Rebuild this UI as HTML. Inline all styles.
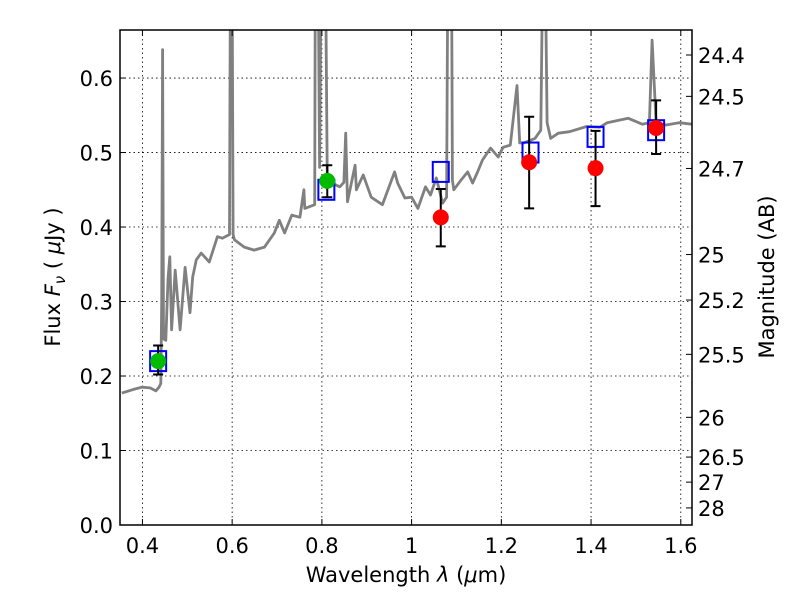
<!DOCTYPE html>
<html><head><meta charset="utf-8"><style>
body{margin:0;background:#fff}
svg text{font-family:"DejaVu Sans","Liberation Sans",sans-serif;fill:#000}
</style></head><body>
<svg id="chart" width="800" height="600" viewBox="0 0 800 600" xmlns="http://www.w3.org/2000/svg">
<defs><clipPath id="clip"><rect x="120" y="30" width="572" height="495"/></clipPath></defs>
<rect x="0" y="0" width="800" height="600" fill="#fff"/>
<g id="grid"></g>
<g id="spec" clip-path="url(#clip)"></g>
<g id="marks" clip-path="url(#clip)"></g>
<rect x="120" y="30" width="572" height="495" fill="none" stroke="#000" stroke-width="1.5"/>
<g id="axes"></g>
<text x="406" y="582" font-size="21" text-anchor="middle">Wavelength  <tspan font-style="italic">λ</tspan> (<tspan font-style="italic">μ</tspan>m)</text>
<text transform="translate(60,277) rotate(-90)" font-size="21" text-anchor="middle">Flux  <tspan font-style="italic">F</tspan><tspan font-style="italic" font-size="15" dy="5">ν</tspan><tspan dy="-5">  ( </tspan><tspan font-style="italic">μ</tspan>Jy )</text>
<text transform="translate(774,277) rotate(-90)" font-size="21" text-anchor="middle">Magnitude (AB)</text>
</svg>
<script>
const xTicks=[0.4,0.6,0.8,1.0,1.2,1.4,1.6];
const xTickLabels=["0.4","0.6","0.8","1","1.2","1.4","1.6"];
const yTicks=[0,0.1,0.2,0.3,0.4,0.5,0.6];
const yTickLabels=["0.0","0.1","0.2","0.3","0.4","0.5","0.6"];
const magTicks=[24.4,24.5,24.7,25,25.2,25.5,26,26.5,27,28];
const magTickLabels=["24.4","24.5","24.7","25","25.2","25.5","26","26.5","27","28"];
const specLam=[0.354,0.38,0.399,0.417,0.43,0.437,0.441,0.443,0.445,0.447,0.452,0.457,0.461,0.465,0.473,0.484,0.495,0.506,0.512,0.52,0.531,0.549,0.567,0.578,0.594,0.597,0.599,0.602,0.605,0.627,0.649,0.672,0.694,0.705,0.717,0.733,0.751,0.76,0.762,0.784,0.786,0.79,0.795,0.8,0.806,0.812,0.818,0.84,0.849,0.853,0.857,0.874,0.877,0.892,0.91,0.935,0.962,0.969,0.985,1.0,1.014,1.031,1.042,1.055,1.069,1.078,1.082,1.088,1.091,1.094,1.11,1.125,1.136,1.147,1.158,1.176,1.193,1.204,1.22,1.235,1.241,1.25,1.275,1.288,1.295,1.302,1.31,1.327,1.352,1.39,1.42,1.436,1.467,1.483,1.514,1.53,1.536,1.545,1.567,1.596,1.625];
const specFlux=[0.177,0.182,0.185,0.184,0.18,0.185,0.19,0.3,0.638,0.25,0.248,0.33,0.36,0.262,0.342,0.262,0.346,0.285,0.333,0.356,0.365,0.353,0.387,0.385,0.39,0.9,0.9,0.39,0.383,0.373,0.369,0.373,0.392,0.409,0.392,0.416,0.413,0.45,0.425,0.43,0.9,0.9,0.48,0.9,0.9,0.459,0.46,0.454,0.46,0.526,0.434,0.483,0.45,0.47,0.44,0.43,0.474,0.459,0.439,0.44,0.425,0.454,0.443,0.466,0.432,0.44,0.9,0.9,0.463,0.45,0.463,0.474,0.459,0.474,0.49,0.506,0.494,0.507,0.51,0.59,0.513,0.513,0.519,0.53,0.9,0.54,0.519,0.526,0.528,0.535,0.534,0.54,0.544,0.546,0.538,0.54,0.651,0.54,0.537,0.54,0.538];
const modelLam=[0.435,0.81,1.065,1.265,1.41,1.545];
const modelFlux=[0.22,0.45,0.474,0.5,0.521,0.53];
const greenLam=[0.435,0.812];
const greenFlux=[0.22,0.462];
const greenLo=[0.202,0.44];
const greenHi=[0.241,0.483];
const redLam=[1.065,1.262,1.41,1.545];
const redFlux=[0.413,0.487,0.479,0.533];
const redLo=[0.374,0.425,0.428,0.498];
const redHi=[0.451,0.548,0.529,0.57];

const X0=120,X1=692,Y0=525,Y1=30,LMIN=0.35,LMAX=1.625,FMIN=0,FMAX=0.6645;
const sx=l=>X0+(l-LMIN)/(LMAX-LMIN)*(X1-X0);
const sy=f=>Y0-(f-FMIN)/(FMAX-FMIN)*(Y0-Y1);
const NS="http://www.w3.org/2000/svg";
function mk(tag,attrs,parent,text){const e=document.createElementNS(NS,tag);for(const k in attrs)e.setAttribute(k,attrs[k]);if(text!==undefined)e.textContent=text;parent.appendChild(e);return e;}
const grid=document.getElementById('grid'),axes=document.getElementById('axes'),spec=document.getElementById('spec'),marks=document.getElementById('marks');
xTicks.forEach((t,i)=>{const x=sx(t);
 let g=mk('line',{x1:x,x2:x,y1:Y1,y2:Y0,stroke:'#000','stroke-width':0.8,'stroke-dasharray':'1.5,3'},grid);
 
 let a=mk('line',{x1:x,x2:x,y1:Y0,y2:Y0-6,stroke:'#000'},axes);
 let b=mk('line',{x1:x,x2:x,y1:Y1,y2:Y1+6,stroke:'#000'},axes);
 let tx=mk('text',{x:x,y:553,'font-size':21,'text-anchor':'middle'},axes,xTickLabels[i]);
 
});
yTicks.forEach((t,i)=>{const y=sy(t);
 if(t>0&&t<0.65){let g=mk('line',{x1:X0,x2:X1,y1:y,y2:y,stroke:'#000','stroke-width':0.8,'stroke-dasharray':'1.5,3'},grid);
 }
 let a=mk('line',{x1:X0,x2:X0+6,y1:y,y2:y,stroke:'#000'},axes);
 let tx=mk('text',{x:113,y:y+8,'font-size':21,'text-anchor':'end'},axes,yTickLabels[i]);
 
});
magTicks.forEach((m,i)=>{const f=Math.pow(10,(23.9-m)/2.5);const y=sy(f);
 let a=mk('line',{x1:X1,x2:X1-6,y1:y,y2:y,stroke:'#000'},axes);
 let tx=mk('text',{x:698,y:y+8,'font-size':21,'text-anchor':'start'},axes,magTickLabels[i]);
 
});
let d=specLam.map((l,i)=>(i?'L':'M')+sx(l).toFixed(1)+','+sy(specFlux[i]).toFixed(1)).join(' ');
let sp=mk('path',{d:d,fill:'none',stroke:'#808080','stroke-width':2.8,'stroke-linejoin':'round'},spec);

modelLam.forEach((l,i)=>{let r=mk('rect',{x:sx(l)-8,y:sy(modelFlux[i])-10,width:16,height:20,fill:'none',stroke:'#0000ff','stroke-width':2},marks);
 });
function pts(L,F,Lo,Hi,col,name){L.forEach((l,i)=>{const x=sx(l);
 let e=mk('path',{d:`M${x},${sy(Lo[i])}V${sy(Hi[i])}M${x-5},${sy(Lo[i])}H${x+5}M${x-5},${sy(Hi[i])}H${x+5}`,stroke:'#000','stroke-width':2,fill:'none'},marks);
 
 let c=mk('circle',{cx:x,cy:sy(F[i]),r:8,fill:col},marks);
 });}
pts(greenLam,greenFlux,greenLo,greenHi,'#00bb00','green-photometry-point');
pts(redLam,redFlux,redLo,redHi,'#ff0000','red-photometry-point');
</script>
</body></html>
